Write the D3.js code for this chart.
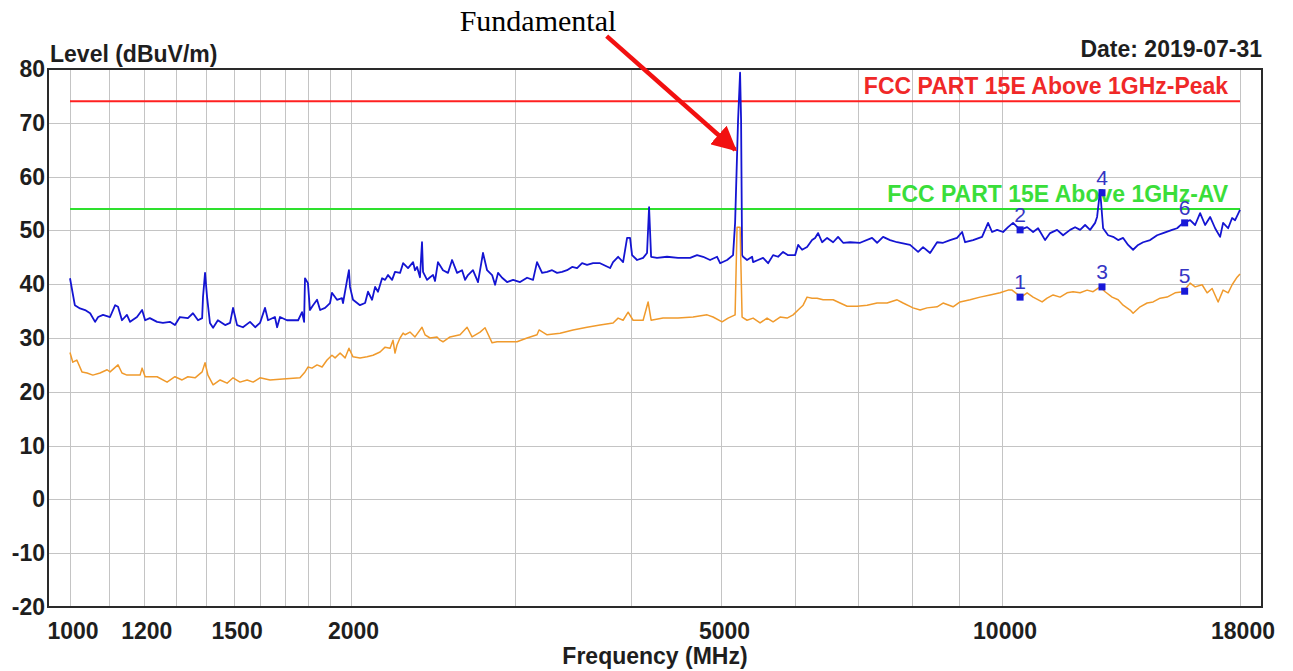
<!DOCTYPE html>
<html>
<head>
<meta charset="utf-8">
<title>Radiated Emission 1 - 18 GHz</title>
<style>
  body { margin: 0; background: #fff; }
  svg { display: block; }
  .axis-text {
    font-family: "Liberation Sans", Arial, sans-serif;
    font-weight: bold;
    font-size: 23px;
    fill: #1e1e1e;
  }
  .grid line { stroke: #c4c4c4; stroke-width: 1px; shape-rendering: crispEdges; }
  .limit-label {
    font-family: "Liberation Sans", Arial, sans-serif;
    font-weight: bold;
    font-size: 23px;
  }
  .marker-label {
    font-family: "Liberation Sans", Arial, sans-serif;
    font-size: 21px;
    fill: #3535c4;
  }
  .note { font-family: "Liberation Serif", "Times New Roman", serif; font-size: 30px; fill: #000; }
</style>
</head>
<body>
<div id="chart"></div>

<script src="https://d3js.org/d3.v7.min.js"></script>
<script>
// axis values
var yTicks = [80, 70, 60, 50, 40, 30, 20, 10, 0, -10, -20];
var xGrid = [1000, 1100, 1200, 1300, 1400, 1500, 1600, 1700, 1800, 1900, 2000,
             3000, 4000, 5000, 6000, 7000, 8000, 9000, 10000, 18000];
var xLabels = [1000, 1200, 1500, 2000, 5000, 10000, 18000];

// limits (dBuV/m)
var limitPeak = 74;
var limitAv = 54;

// peak detector trace [MHz, dBuV/m]
var peakTrace = [
  [1000, 41.1], [1012, 36.1], [1025, 35.5], [1038, 35.2], [1051, 34.6], [1064, 33.0],
  [1072, 33.9], [1085, 34.3], [1104, 33.9], [1118, 36.1], [1126, 35.8], [1137, 33.3],
  [1151, 34.3], [1160, 33.0], [1180, 33.9], [1195, 35.2], [1204, 33.3], [1218, 33.7],
  [1240, 33.0], [1258, 32.8], [1280, 33.0], [1296, 32.4], [1312, 33.9], [1338, 33.7],
  [1355, 34.6], [1372, 33.3], [1386, 33.7], [1389, 37.6], [1396, 42.1], [1403, 37.6],
  [1413, 32.8], [1424, 31.9], [1441, 33.3], [1467, 32.4], [1485, 32.8], [1496, 35.6],
  [1511, 32.4], [1533, 32.0], [1560, 33.0], [1580, 32.0], [1599, 32.8], [1619, 35.6],
  [1631, 33.3], [1659, 33.9], [1668, 32.0], [1680, 33.9], [1709, 33.3], [1757, 33.3],
  [1774, 34.8], [1783, 33.0], [1787, 41.1], [1800, 40.2], [1809, 35.2], [1823, 36.1],
  [1841, 37.1], [1855, 35.2], [1878, 35.6], [1901, 36.5], [1910, 38.4], [1934, 37.1],
  [1958, 37.4], [1963, 36.5], [1983, 40.8], [1992, 42.6], [1997, 39.5], [2012, 37.1],
  [2047, 36.1], [2073, 36.5], [2088, 38.6], [2109, 37.1], [2125, 39.5], [2140, 38.6],
  [2162, 41.1], [2178, 40.8], [2194, 41.7], [2216, 40.8], [2232, 42.3], [2260, 42.1],
  [2277, 43.9], [2305, 43.0], [2334, 44.1], [2345, 42.6], [2357, 43.2], [2374, 41.3],
  [2386, 47.8], [2392, 42.3], [2416, 40.8], [2434, 41.3], [2452, 41.7], [2464, 40.6],
  [2482, 44.1], [2513, 42.6], [2544, 42.1], [2570, 44.5], [2602, 42.1], [2634, 42.6],
  [2654, 40.8], [2673, 41.7], [2706, 42.6], [2740, 40.4], [2774, 45.8], [2802, 42.6],
  [2837, 41.7], [2858, 39.9], [2879, 42.1], [2908, 41.2], [2944, 40.4], [2988, 40.8],
  [3040, 40.4], [3093, 41.2], [3139, 40.8], [3170, 44.1], [3210, 42.1], [3250, 42.3],
  [3290, 42.6], [3331, 42.1], [3372, 42.3], [3414, 42.6], [3457, 43.2], [3500, 43.0],
  [3543, 43.9], [3587, 43.6], [3641, 43.9], [3704, 43.9], [3797, 43.0], [3825, 44.1],
  [3873, 45.1], [3921, 44.1], [3960, 48.6], [3989, 48.6], [4009, 45.4], [4059, 44.5],
  [4120, 44.9], [4160, 45.8], [4181, 54.3], [4202, 45.1], [4264, 44.9], [4371, 45.1],
  [4491, 44.9], [4627, 44.9], [4707, 45.4], [4778, 45.1], [4861, 44.5], [4946, 45.1],
  [4983, 43.9], [5070, 44.5], [5145, 45.4], [5171, 51.4], [5209, 70.5], [5235, 79.3],
  [5248, 70.5], [5261, 45.4], [5274, 45.1], [5326, 44.5], [5393, 45.1], [5406, 44.1],
  [5473, 44.5], [5541, 44.9], [5610, 43.9], [5680, 45.4], [5750, 45.1], [5822, 46.0],
  [5894, 45.4], [5997, 45.4], [6042, 47.3], [6102, 46.4], [6177, 46.9], [6254, 48.2],
  [6301, 48.6], [6348, 49.5], [6411, 47.8], [6491, 48.6], [6588, 47.8], [6669, 48.8],
  [6753, 47.7], [6870, 47.8], [7042, 47.7], [7253, 48.6], [7344, 47.7], [7453, 48.8],
  [7583, 48.2], [7716, 47.8], [7967, 47.3], [8127, 46.0], [8227, 46.9], [8371, 45.8],
  [8517, 47.8], [8644, 47.7], [8795, 48.2], [8948, 48.6], [9060, 49.7], [9127, 47.8],
  [9309, 48.2], [9518, 48.8], [9660, 51.4], [9756, 49.7], [9878, 50.1], [10025, 49.7],
  [10149, 50.6], [10275, 51.4], [10455, 50.1], [10638, 50.6], [10797, 49.7], [10931, 50.4],
  [11122, 48.2], [11260, 49.5], [11456, 50.1], [11627, 49.1], [11830, 50.1], [11977, 50.6],
  [12126, 50.1], [12277, 51.0], [12429, 50.1], [12584, 51.4], [12646, 52.5], [12740, 57.5],
  [12835, 50.4], [12995, 49.1], [13157, 48.8], [13320, 48.2], [13486, 48.6], [13653, 47.3],
  [13823, 46.4], [13995, 47.3], [14169, 47.8], [14416, 48.2], [14668, 49.1], [14886, 49.5],
  [15220, 50.1], [15409, 50.4], [15639, 51.4], [15913, 51.9], [16111, 51.0], [16311, 53.2],
  [16514, 51.0], [16719, 52.5], [16927, 50.4], [17137, 48.8], [17264, 51.4], [17480, 50.4],
  [17653, 52.3], [17784, 51.9], [18000, 53.8]
];

// average detector trace [MHz, dBuV/m]
var avTrace = [
  [1000, 27.3], [1007, 25.5], [1017, 25.9], [1030, 23.7], [1043, 23.5], [1058, 23.1],
  [1077, 23.5], [1096, 24.1], [1104, 23.7], [1126, 25.0], [1137, 23.5], [1151, 23.1],
  [1168, 23.1], [1189, 23.1], [1195, 24.4], [1204, 22.8], [1240, 22.8], [1271, 21.8],
  [1296, 22.8], [1319, 22.2], [1338, 22.8], [1362, 22.6], [1386, 23.7], [1396, 25.4],
  [1406, 23.1], [1424, 21.3], [1449, 22.2], [1474, 21.6], [1496, 22.6], [1522, 21.8],
  [1549, 22.2], [1572, 21.8], [1599, 22.6], [1639, 22.2], [1692, 22.4], [1765, 22.6],
  [1787, 23.7], [1800, 24.6], [1818, 24.4], [1841, 25.0], [1864, 24.6], [1887, 25.9],
  [1910, 26.8], [1925, 26.3], [1949, 27.2], [1973, 26.3], [1992, 28.1], [2012, 26.5],
  [2047, 26.3], [2083, 26.5], [2114, 26.8], [2151, 27.4], [2178, 28.3], [2205, 28.1],
  [2221, 29.6], [2232, 27.2], [2243, 28.7], [2260, 30.0], [2277, 30.9], [2288, 30.6],
  [2316, 31.1], [2345, 30.2], [2386, 32.0], [2404, 30.6], [2434, 30.0], [2476, 30.2],
  [2495, 29.6], [2513, 29.3], [2557, 30.2], [2621, 30.6], [2667, 32.0], [2700, 30.2],
  [2754, 31.1], [2788, 31.9], [2837, 29.1], [2872, 29.3], [2944, 29.3], [3017, 29.3],
  [3093, 30.0], [3170, 30.6], [3186, 31.5], [3250, 30.6], [3356, 30.9], [3465, 31.5],
  [3587, 32.0], [3704, 32.4], [3825, 32.8], [3873, 33.7], [3921, 33.3], [3970, 34.8],
  [4019, 33.3], [4120, 33.3], [4171, 36.7], [4202, 33.3], [4328, 33.7], [4491, 33.7],
  [4661, 33.9], [4825, 34.3], [4897, 33.9], [5007, 33.0], [5082, 33.7], [5171, 34.3],
  [5196, 50.6], [5235, 50.6], [5261, 33.9], [5326, 33.3], [5406, 33.7], [5500, 32.8],
  [5596, 33.7], [5680, 33.0], [5779, 33.9], [5880, 33.7], [5968, 34.3], [6042, 35.2],
  [6117, 36.1], [6177, 37.6], [6254, 37.4], [6332, 37.4], [6427, 37.1], [6588, 37.1],
  [6702, 36.5], [6820, 35.9], [6990, 35.9], [7165, 36.1], [7344, 36.5], [7527, 36.5],
  [7716, 37.1], [7831, 36.5], [8026, 35.6], [8167, 35.2], [8309, 35.6], [8517, 35.8],
  [8644, 36.5], [8860, 35.8], [9014, 36.7], [9240, 37.1], [9471, 37.6], [9708, 38.0],
  [9951, 38.4], [10149, 38.9], [10250, 38.9], [10481, 37.6], [10638, 38.4], [10797, 37.6],
  [11040, 36.7], [11177, 37.4], [11344, 38.0], [11541, 37.6], [11742, 38.4], [11918, 38.6],
  [12126, 38.4], [12338, 38.9], [12521, 38.6], [12740, 39.5], [12899, 38.6], [13124, 37.6],
  [13320, 37.1], [13486, 36.1], [13721, 35.2], [13823, 34.6], [14065, 35.8], [14310, 36.5],
  [14523, 36.7], [14777, 37.4], [15034, 37.6], [15333, 38.4], [15639, 38.6], [15913, 40.2],
  [16111, 39.5], [16392, 39.9], [16596, 38.4], [16802, 39.2], [17053, 36.7], [17264, 38.9],
  [17480, 38.4], [17653, 39.9], [17872, 41.3], [18000, 41.9]
];

// marker points [no, MHz, dBuV/m]
var markers = [
  [1, 10455, 37.6], [2, 10455, 50.1], [3, 12800, 39.5],
  [4, 12800, 57.0], [5, 15700, 38.7], [6, 15700, 51.4]
];

var width = 1293, height = 671;

var svg = d3.select("#chart").append("svg")
    .attr("width", width)
    .attr("height", height);

var x = d3.scaleLog().domain([1000, 18000]).range([70, 1240]);
var y = d3.scaleLinear().domain([-20, 80]).range([607, 69]);

var frameLeft = 48, frameRight = 1262;

// grid
var grid = svg.append("g").attr("class", "grid");
grid.selectAll(".hgrid")
    .data(yTicks)
    .enter().append("line")
    .attr("x1", frameLeft).attr("x2", frameRight)
    .attr("y1", function(d){ return Math.round(y(d)) + 0.5; })
    .attr("y2", function(d){ return Math.round(y(d)) + 0.5; });
grid.selectAll(".vgrid")
    .data(xGrid)
    .enter().append("line")
    .attr("x1", function(d){ return Math.round(x(d)) + 0.5; })
    .attr("x2", function(d){ return Math.round(x(d)) + 0.5; })
    .attr("y1", y(80)).attr("y2", y(-20));

// frame
svg.append("rect")
    .attr("x", frameLeft).attr("y", y(80))
    .attr("width", frameRight - frameLeft)
    .attr("height", y(-20) - y(80))
    .attr("fill", "none")
    .attr("stroke", "#2a2a2a")
    .attr("stroke-width", 2);

// limit lines
var limits = [
  { v: limitPeak, color: "#ff2020", text: "FCC PART 15E Above 1GHz-Peak", textColor: "#f02828" },
  { v: limitAv, color: "#2ee02e", text: "FCC PART 15E Above 1GHz-AV", textColor: "#3ade3a" }
];
limits.forEach(function(l){
  svg.append("text")
      .attr("class", "limit-label")
      .attr("x", x(17480))
      .attr("y", y(l.v) - 7)
      .attr("text-anchor", "end")
      .attr("fill", l.textColor)
      .text(l.text);
  svg.append("line")
      .attr("x1", x(1000)).attr("x2", x(18000))
      .attr("y1", y(l.v)).attr("y2", y(l.v))
      .attr("stroke", l.color)
      .attr("stroke-width", 2);
});

// traces
var line = d3.line()
    .x(function(d){ return x(d[0]); })
    .y(function(d){ return y(d[1]); });

svg.append("path")
    .datum(peakTrace)
    .attr("d", line)
    .attr("fill", "none")
    .attr("stroke", "#1414d2")
    .attr("stroke-width", 1.8)
    .attr("stroke-linejoin", "round");

svg.append("path")
    .datum(avTrace)
    .attr("d", line)
    .attr("fill", "none")
    .attr("stroke", "#f09a2c")
    .attr("stroke-width", 1.5)
    .attr("stroke-linejoin", "round");

// markers
var mk = svg.selectAll(".marker").data(markers).enter().append("g");
mk.append("rect")
    .attr("x", function(d){ return x(d[1]) - 3.5; })
    .attr("y", function(d){ return y(d[2]) - 3.5; })
    .attr("width", 7).attr("height", 7)
    .attr("fill", "#1818d8");
mk.append("text")
    .attr("class", "marker-label")
    .attr("x", function(d){ return x(d[1]); })
    .attr("y", function(d){ return y(d[2]) - 8; })
    .attr("text-anchor", "middle")
    .text(function(d){ return d[0]; });

// y tick labels
svg.selectAll(".ylab")
    .data(yTicks)
    .enter().append("text")
    .attr("class", "axis-text")
    .attr("x", 45)
    .attr("y", function(d){ return y(d) + 8; })
    .attr("text-anchor", "end")
    .text(function(d){ return d; });

// x tick labels
svg.selectAll(".xlab")
    .data(xLabels)
    .enter().append("text")
    .attr("class", "axis-text")
    .attr("x", function(d){ return x(d) + 3; })
    .attr("y", 639)
    .attr("text-anchor", "middle")
    .text(function(d){ return d; });

// titles
svg.append("text")
    .attr("class", "axis-text")
    .attr("x", 50).attr("y", 62)
    .text("Level (dBuV/m)");
svg.append("text")
    .attr("class", "axis-text")
    .attr("x", frameRight).attr("y", 57)
    .attr("text-anchor", "end")
    .text("Date: 2019-07-31");
svg.append("text")
    .attr("class", "axis-text")
    .attr("x", (x(1000) + x(18000)) / 2)
    .attr("y", 664)
    .attr("text-anchor", "middle")
    .text("Frequency (MHz)");

// annotation
svg.append("defs").append("marker")
    .attr("id", "arrowhead")
    .attr("viewBox", "0 0 10 10")
    .attr("refX", 9).attr("refY", 5)
    .attr("markerWidth", 5.5).attr("markerHeight", 5.5)
    .attr("markerUnits", "strokeWidth")
    .attr("orient", "auto")
    .append("path")
    .attr("d", "M0,0 L10,5 L0,10 Z")
    .attr("fill", "#f21010");

svg.append("text")
    .attr("class", "note")
    .attr("x", 538).attr("y", 31)
    .attr("text-anchor", "middle")
    .text("Fundamental");

svg.append("line")
    .attr("x1", x(3765)).attr("y1", y(86.1))
    .attr("x2", x(5171)).attr("y2", y(65))
    .attr("stroke", "#f21010")
    .attr("stroke-width", 4.5)
    .attr("marker-end", "url(#arrowhead)");
</script>
</body>
</html>
